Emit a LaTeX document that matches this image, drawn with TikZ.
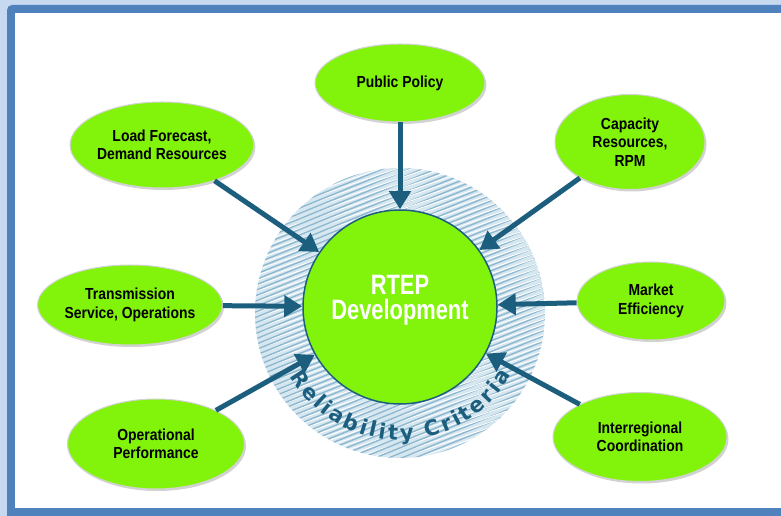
\documentclass[tikz,border=0pt]{standalone}
\usepackage{fontspec}
\newfontfamily\nodefont[FakeStretch=0.87]{Liberation Sans}
\newfontfamily\centerfont[FakeStretch=0.78]{Liberation Sans}
\newfontfamily\ringfont{DejaVu Sans}
\usetikzlibrary{arrows.meta,shadows,shapes.geometric,decorations.text}
\definecolor{frameblue}{HTML}{4F81BD}
\definecolor{framelight}{HTML}{C6D9F1}
\definecolor{lime}{HTML}{82F40C}
\definecolor{arrowteal}{HTML}{1C5E7E}
\definecolor{ringbase}{HTML}{D6E7F0}
\definecolor{ringline}{HTML}{8DB8D0}
\tikzset{
  bubble/.style={ellipse, fill=lime, draw=gray!35, line width=1pt, inner sep=0pt,
    drop shadow={shadow xshift=1.5pt, shadow yshift=-2pt, opacity=0.35},
    align=center, font=\nodefont\bfseries\fontsize{16}{18.5}\selectfont},
  feed/.style={draw=arrowteal, line width=5pt, -{Triangle[length=18pt,width=21pt]}},
}
\begin{document}
\begin{tikzpicture}[x=1pt,y=1pt]
\useasboundingbox (0,0) rectangle (781,516);
% frame
\fill[framelight] (0,0) rectangle (781,516);
\fill[frameblue, rounded corners=5pt] (7,-20) rectangle (820,511);
\fill[white] (15,8) rectangle (781,503);
% hatched ring
\begin{scope}
  \clip (400,203) circle (145);
  \fill[ringbase] (400,203) circle (145);
  \foreach \i in {-160,-155,...,160} {
    \draw[ringline, line width=1.4pt, rotate around={22:(400,203)}] (240,{203+\i}) -- (560,{203+\i});
    \draw[white, line width=0.9pt, rotate around={19:(400,203)}] (240,{205.5+\i}) -- (560,{205.5+\i});
  }
\end{scope}
% ring label
\path[decorate, decoration={text along path,
   text={|\ringfont\bfseries\fontsize{21}{21}\selectfont\color{arrowteal}|Reliability Criteria},
   text align={fit to path}}]
   (400,203) ++(210:127) arc[start angle=210, end angle=331, radius=127];
% centre
\node[circle, fill=lime, draw=arrowteal, line width=1.5pt, minimum size=194pt, inner sep=0pt] (c) at (400,209) {};
\node[align=center, text=white, font=\centerfont\bfseries\fontsize{28}{25}\selectfont] (ct) at (400,216) {RTEP\\Development};
% bubbles
\node[bubble, minimum width=170pt, minimum height=78pt] (pp) at (400,433) {Public Policy};
\node[bubble, minimum width=176pt, minimum height=86pt] (lf) at (162,371) {Load Forecast,\\Demand Resources};
\node[bubble, minimum width=150pt, minimum height=95pt] (cap) at (630,374) {Capacity\\Resources,\\RPM};
\node[bubble, minimum width=170pt, minimum height=80pt] (ts) at (130,211) {Transmission\\Service, Operations};
\node[bubble, minimum width=148pt, minimum height=78pt] (me) at (651,215) {Market\\Efficiency};
\node[bubble, minimum width=177pt, minimum height=90pt] (op) at (156,72) {Operational\\Performance};
\node[bubble, minimum width=174pt, minimum height=89pt] (ir) at (640,79) {Interregional\\Coordination};
% connectors
\draw[feed] (pp) -- (c);
\draw[feed] (lf) -- (c);
\draw[feed] (cap) -- (c);
\draw[feed] (ts) -- (c);
\draw[feed] (me) -- (c);
\draw[feed] (op) -- (c);
\draw[feed] (ir) -- (c);
\end{tikzpicture}
\end{document}
